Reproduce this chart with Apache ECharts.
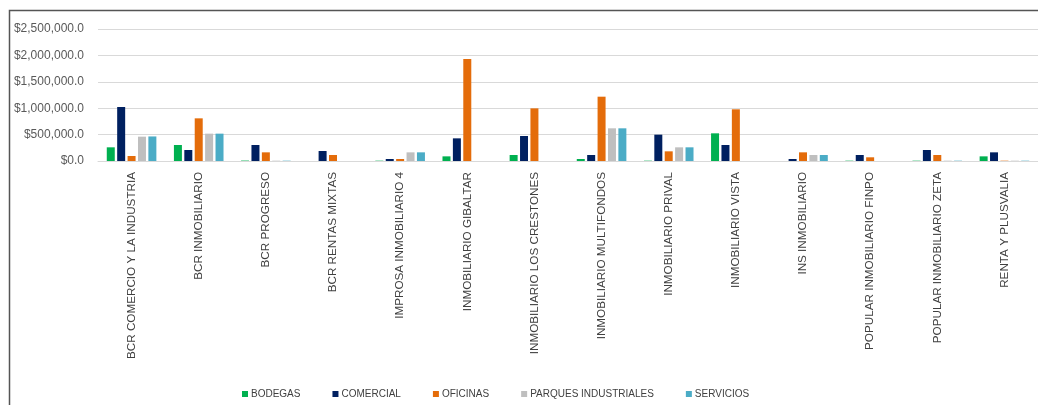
<!DOCTYPE html>
<html>
<head>
<meta charset="utf-8">
<script src="https://cdn.jsdelivr.net/npm/echarts@6/dist/echarts.min.js"></script>
<style>
html,body{margin:0;padding:0;background:#fff;}
#c{width:1038px;height:405px;}
</style>
</head>
<body>
<div id="c"></div>
<script>
const categories = [
  "BCR COMERCIO Y LA INDUSTRIA","BCR INMOBILIARIO","BCR PROGRESO","BCR RENTAS MIXTAS",
  "IMPROSA INMOBILIARIO 4","INMOBILIARIO GIBALTAR","INMOBILIARIO LOS CRESTONES",
  "INMOBILIARIO MULTIFONDOS","INMOBILIARIO PRIVAL","INMOBILIARIO VISTA","INS INMOBILIARIO",
  "POPULAR INMOBILIARIO FINPO","POPULAR INMOBILIARIO ZETA","RENTA Y PLUSVALIA"
];
const seriesNames = ["BODEGAS","COMERCIAL","OFICINAS","PARQUES INDUSTRIALES","SERVICIOS"];
const bodegas    = [259000, 303000,   8000,      0,   6000,   88000, 114000,   38000,   6000, 524000,      0,   6000,   6000,  88000];
const comercial  = [1023000, 208000, 303000, 189000,  38000,  429000, 473000,  114000, 499000, 303000,  38000, 114000, 208000, 164000];
const oficinas   = [95000,  808000, 164000, 114000,  38000, 1932000, 997000, 1218000, 183000, 979000, 164000,  70000, 114000,   6000];
const parques    = [461000, 518000,   6000,      0, 164000,       0,      0,  619000, 259000,      0, 114000,      0,   6000,   6000];
const servicios  = [465000, 518000,   6000,      0, 164000,       0,      0,  619000, 259000,      0, 114000,      0,   6000,   6000];
const yTicks = [0, 500000, 1000000, 1500000, 2000000, 2500000];

const colors = ["#00B050","#002060","#E46C0A","#BFBFBF","#4BACC6"];
const values = [bodegas, comercial, oficinas, parques, servicios];

function fmt(v){
  return "$" + v.toLocaleString("en-US",{minimumFractionDigits:1,maximumFractionDigits:1});
}

const chart = echarts.init(document.getElementById("c"), null, {renderer:"canvas"});
chart.setOption({
  animation:false,
  textStyle:{fontFamily:"Liberation Sans"},
  graphic:[{
    type:"rect", silent:true, z:-1,
    shape:{x:9.5,y:10.5,width:1200,height:600},
    style:{fill:"none",stroke:"#555",lineWidth:1.5}
  }],
  legend:{
    data:seriesNames,
    top:384,
    left:237,
    itemWidth:6,itemHeight:6,itemGap:32,
    icon:"rect",
    textStyle:{color:"#404040",fontSize:10,fontFamily:"Liberation Sans",padding:[0,0,0,-2]}
  },
  grid:{left:98,top:29,bottom:244,width:948,containLabel:false},
  xAxis:{
    type:"category",
    data:categories,
    axisLine:{lineStyle:{color:"#D9D9D9"}},
    axisTick:{show:false},
    axisLabel:{rotate:90,interval:0,color:"#404040",fontSize:11.7,margin:11,fontFamily:"Liberation Sans"}
  },
  yAxis:{
    type:"value",
    min:yTicks[0],max:yTicks[yTicks.length-1],interval:500000,
    axisLine:{show:false},axisTick:{show:false},
    splitLine:{lineStyle:{color:"#D9D9D9",width:1}},
    axisLabel:{formatter:fmt,color:"#595959",fontSize:12,margin:14,fontFamily:"Liberation Sans"}
  },
  series: seriesNames.map((n,i)=>({
    name:n,type:"bar",data:values[i],
    barWidth:8,barGap:"30%",
    itemStyle:{color:colors[i]}
  }))
});
</script>
</body>
</html>
